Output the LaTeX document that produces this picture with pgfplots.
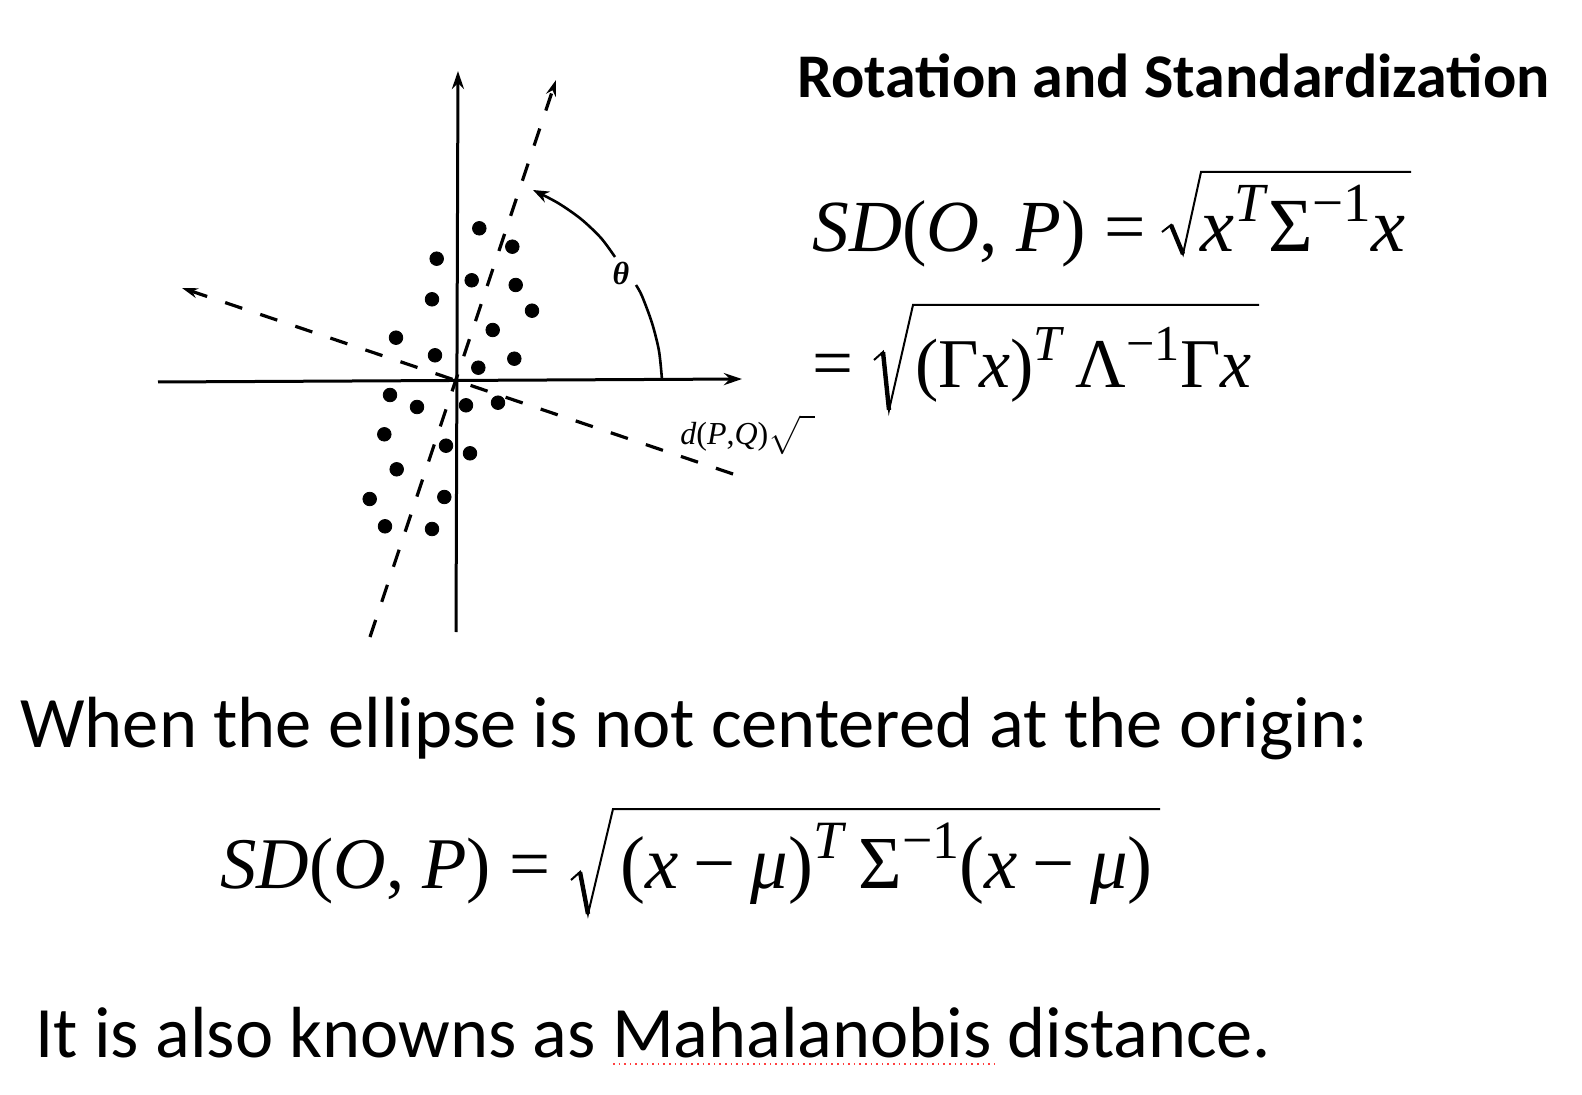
\documentclass[border=0pt]{standalone}
\usepackage{pgfplots}
\pgfplotsset{compat=1.18}
\usepackage{graphicx}
\usepackage{fontspec}
\usetikzlibrary{arrows.meta}
\newfontfamily\tnr{Liberation Serif}
\newfontfamily\calibri{Carlito}
\newcommand{\sups}[1]{\raisebox{0.40em}{\fontsize{7.2}{8}\selectfont #1}}
\newcommand{\mn}{\hspace{0.2em}−\hspace{0.2em}}
\begin{document}
\begin{tikzpicture}
\begin{axis}[
  width=791pt, height=547.5pt, scale only axis,
  xmin=0, xmax=1582, ymin=0, ymax=1095, y dir=reverse,
  axis lines=none, clip=false, ticks=none,
]
\path[draw=none] (rel axis cs:0,0) rectangle (rel axis cs:1,1);
% axes
\addplot[black, line width=1.5pt, -{Stealth[length=9pt,width=6pt]}] coordinates {(158,382) (742,379)};
\addplot[black, line width=1.5pt, -{Stealth[length=9pt,width=6pt]}] coordinates {(456,632) (458,71)};
% rotated axes
\addplot[black, line width=1.6pt, dash pattern=on 9pt off 9.5pt, -{Stealth[length=8pt,width=5pt]}] coordinates {(370,637) (556,80)};
\addplot[black, line width=1.6pt, dash pattern=on 9pt off 9.5pt, -{Stealth[length=8pt,width=5pt]}] coordinates {(733,474) (182,288)};
% angle arc
\addplot[black, line width=1.3pt, smooth] coordinates {(662,380) (659,351) (652,323) (642,296) (636,285)};
\addplot[black, line width=1.3pt, smooth, -{Stealth[length=8pt,width=6pt]}] coordinates {(615,257) (601,238) (581,219) (558,203) (533,190)};
% points
\addplot[only marks, mark=*, mark size=3.4pt, black] coordinates {
(479.3,228.3) (512.3,246.7) (436.7,258.7) (471.7,280.3) (515.7,285)
(432,299.3) (532,310.7) (492.7,330) (396,337.7) (435,355.3)
(514.3,358.7) (478.3,367.7)
(390,395) (417,407) (466,405.3) (498,402.7) (384.3,434.3)
(446,445.7) (470,453.3) (396.7,469.3) (369.7,499) (444.3,497)
(385,526.3) (432,529)
};
% radicals
\addplot[black, line width=1pt, line join=miter] coordinates {(1162,232) (1171,225) (1183,254) (1201,172) (1411,172)};
\addplot[black, line width=2.2pt] coordinates {(1171,225) (1183,254)};
\addplot[black, line width=1pt, line join=miter] coordinates {(874,360) (883,352) (889,410) (913,305) (1259,305)};
\addplot[black, line width=2.2pt] coordinates {(883,352) (889,410)};
\addplot[black, line width=1pt, line join=miter] coordinates {(571,880) (580,872) (588,914) (613,809) (1160,809)};
\addplot[black, line width=2.2pt] coordinates {(580,872) (588,914)};
% red squiggle under Mahalanobis
\addplot[red!75, line width=0.8pt, dotted] coordinates {(613,1064) (994,1064)};
% small labels
\node[anchor=center] at (axis cs:621,273) {\fontsize{16}{16}\selectfont\tnr\bfseries\itshape θ};
\node[anchor=base west, inner sep=0pt] at (axis cs:680,445) {\scalebox{1.6}{\tnr\itshape d\upshape(\itshape P\upshape,\itshape Q\upshape)$\sqrt{\vphantom{(}\hspace{0.45em}}$}};
% title
\node[anchor=base west, inner sep=0pt] at (axis cs:797,98) {\resizebox{376pt}{!}{\calibri\bfseries Rotation and Standardization}};
% equation 1
\node[anchor=base west, inner sep=0pt] at (axis cs:812,252) {\resizebox{166.5pt}{!}{\tnr\textit{SD}(\textit{O}, \textit{P}) =}};
\node[anchor=base west, inner sep=0pt] at (axis cs:1200,252) {\resizebox{102.5pt}{!}{\tnr\textit{x}\sups{\textit{T}}Σ\sups{−1}\textit{x}}};
% equation 2
\node[anchor=base west, inner sep=0pt] at (axis cs:812,388) {\resizebox{20.5pt}{!}{\tnr =}};
\node[anchor=base west, inner sep=0pt] at (axis cs:915,388) {\resizebox{168pt}{!}{\tnr(Γ\textit{x})\sups{\textit{T}}\,Λ\sups{−1}Γ\textit{x}}};
% text line
\node[anchor=base west, inner sep=0pt] at (axis cs:20,747) {\resizebox{673.5pt}{!}{\calibri When the ellipse is not centered at the origin:}};
% equation 3
\node[anchor=base west, inner sep=0pt] at (axis cs:220,888) {\resizebox{165pt}{!}{\tnr\textit{SD}(\textit{O}, \textit{P}) =}};
\node[anchor=base west, inner sep=0pt] at (axis cs:620,888) {\resizebox{266pt}{!}{\tnr(\textit{x}\mn\textit{μ})\sups{\textit{T}}\,Σ\sups{−1}(\textit{x}\mn\textit{μ})}};
% last line
\node[anchor=base west, inner sep=0pt] at (axis cs:35,1057) {\resizebox{618pt}{!}{\calibri It is also knowns as Mahalanobis distance.}};
\end{axis}
\end{tikzpicture}
\end{document}
